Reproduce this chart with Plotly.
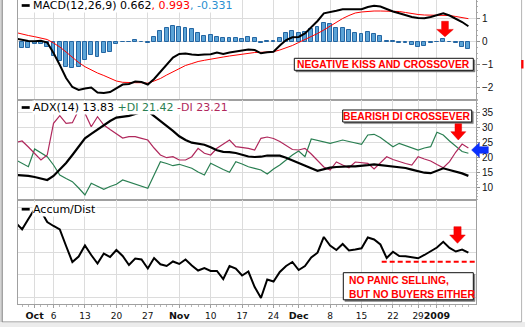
import plotly.graph_objects as go
import pandas as pd

# ---------------- data ----------------
holidays = ["2008-11-27", "2008-12-25", "2009-01-01"]
dates = [d for d in pd.bdate_range("2008-09-26", "2009-01-09")
         if d.strftime("%Y-%m-%d") not in holidays]

day_tick_dates = ["2008-10-06", "2008-10-13", "2008-10-20", "2008-10-27",
                  "2008-11-10", "2008-11-17", "2008-11-24",
                  "2008-12-08", "2008-12-15", "2008-12-22", "2008-12-29"]
day_tick_labels = ["6", "13", "20", "27", "10", "17", "24", "8", "15", "22", "29"]
month_tick_dates = ["2008-10-01", "2008-11-03", "2008-12-01", "2009-01-02"]
month_tick_labels = ["Oct", "Nov", "Dec", "2009"]

macd = [0.130, 0.065, 0.022, 0.009, 0.030, -0.043, -0.500, -1.022, -1.587, -1.978,
        -2.109, -2.043, -2.000, -2.217, -2.239, -2.196, -2.022, -1.870, -1.848, -1.739,
        -1.761, -1.870, -1.630, -1.326, -0.978, -0.696, -0.543, -0.522, -0.565, -0.587,
        -0.565, -0.557, -0.478, -0.543, -0.478, -0.435, -0.404, -0.348, -0.370, -0.513,
        -0.470, -0.443, -0.174, 0.065, 0.183, 0.196, 0.348, 0.630, 0.891, 1.226,
        1.270, 1.335, 1.400, 1.400, 1.400, 1.400, 1.500, 1.552, 1.522, 1.400,
        1.304, 1.226, 1.130, 1.065, 1.022, 1.009, 1.065, 1.152, 1.226, 1.130,
        1.000, 0.848, 0.662]
signal = [0.391, 0.313, 0.261, 0.209, 0.152, 0.087, -0.065, -0.239, -0.457, -0.696,
          -0.913, -1.096, -1.239, -1.370, -1.478, -1.609, -1.717, -1.774, -1.791, -1.791,
          -1.791, -1.813, -1.717, -1.609, -1.457, -1.313, -1.152, -1.043, -0.957, -0.870,
          -0.817, -0.761, -0.730, -0.674, -0.630, -0.587, -0.543, -0.500, -0.478, -0.470,
          -0.457, -0.443, -0.370, -0.283, -0.174, -0.043, 0.087, 0.196, 0.348, 0.500,
          0.674, 0.848, 1.000, 1.130, 1.239, 1.283, 1.313, 1.326, 1.326, 1.326,
          1.326, 1.304, 1.261, 1.204, 1.174, 1.152, 1.152, 1.152, 1.152, 1.130,
          1.087, 1.035, 0.993]
hist = [-0.32, -0.30, -0.28, -0.11, -0.10, -0.22, -0.65, -0.85, -1.09, -1.14,
        -1.09, -0.80, -0.59, -0.66, -0.51, -0.44, -0.12, -0.04, -0.04, 0.07,
        -0.03, -0.08, 0.21, 0.44, 0.60, 0.67, 0.64, 0.57, 0.53, 0.36,
        0.24, 0.28, 0.21, 0.14, 0.17, 0.17, 0.10, 0.18, 0.17, -0.05,
        0.01, 0.02, 0.14, 0.36, 0.46, 0.36, 0.40, 0.53, 0.64, 0.79,
        0.76, 0.57, 0.57, 0.50, 0.36, 0.33, 0.40, 0.33, 0.24, 0.04,
        0.01, -0.08, -0.08, -0.15, -0.23, -0.20, -0.08, -0.03, 0.10, -0.01,
        -0.08, -0.23, -0.331]

adx = [14.12, 14.05, 13.85, 13.45, 12.95, 12.45, 13.79, 15.80, 18.14, 20.82,
       23.60, 26.42, 27.89, 29.37, 30.81, 32.22, 33.36, 33.56, 33.93, 34.60,
       35.23, 35.50, 33.89, 32.22, 30.71, 28.90, 27.09, 25.85, 24.95, 24.58,
       24.28, 23.40, 22.40, 21.86, 21.80, 21.49, 20.86, 20.32, 20.15, 20.25,
       20.66, 20.76, 20.62, 19.89, 18.95, 18.18, 17.24, 16.40, 15.53, 16.03,
       16.57, 16.80, 17.00, 17.04, 17.04, 17.14, 17.41, 17.67, 17.41, 17.04,
       16.80, 16.60, 16.47, 15.93, 15.36, 14.89, 14.72, 15.50, 16.37, 15.80,
       15.29, 14.66, 13.83]
plus_di = [19.15, 17.98, 16.90, 22.83, 21.39, 20.25, 17.47, 14.12, 12.95, 11.88,
           9.77, 7.42, 11.34, 10.27, 9.33, 10.27, 11.01, 12.45, 11.78, 10.94,
           10.27, 9.66, 14.12, 18.58, 17.98, 17.24, 17.71, 17.04, 16.37, 15.13,
           14.12, 18.04, 16.90, 15.96, 15.03, 18.58, 17.81, 16.90, 16.37, 15.80,
           14.46, 16.13, 17.47, 19.15, 20.82, 22.16, 20.25, 26.19, 25.68, 25.18,
           24.74, 25.28, 25.85, 25.35, 24.85, 24.41, 27.53, 27.76, 26.69, 25.18,
           23.61, 24.74, 24.01, 23.17, 22.50, 23.17, 23.61, 28.43, 27.53, 25.52,
           23.84, 22.00, 21.42]
minus_di = [25.01, 25.52, 23.50, 21.49, 19.15, 20.82, 31.45, 33.99, 31.45, 31.65,
            35.90, 34.80, 30.31, 33.66, 30.88, 29.37, 28.03, 26.52, 26.96, 26.96,
            26.42, 25.85, 23.17, 20.82, 19.92, 20.25, 19.15, 19.15, 20.25, 23.07,
            21.39, 20.82, 23.07, 24.51, 25.85, 23.61, 23.34, 23.07, 22.50, 26.42,
            26.86, 26.35, 25.35, 24.01, 22.67, 22.50, 23.07, 21.16, 18.98, 16.80,
            15.80, 18.48, 17.47, 16.57, 18.48, 18.31, 18.04, 16.13, 18.14, 20.25,
            19.32, 18.58, 17.98, 17.47, 20.25, 19.48, 18.81, 17.64, 16.57, 18.58,
            21.83, 24.51, 23.21]
accum_dist = [3.289, 3.009, 3.467, 3.911, 3.822, 3.333, 3.156, 3.000, 2.267, 1.556,
              1.800, 2.289, 1.867, 1.489, 1.933, 1.778, 2.089, 1.822, 1.422, 1.711,
              1.667, 1.267, 1.733, 1.453, 1.378, 1.578, 1.467, 1.667, 1.400, 1.178,
              1.289, 1.156, 1.156, 0.800, 1.378, 1.267, 0.956, 1.133, 0.444, -0.044,
              0.778, 0.689, 1.111, 1.378, 1.556, 1.200, 1.378, 1.756, 1.969, 2.667,
              2.289, 2.089, 2.356, 2.067, 2.111, 2.164, 2.644, 2.556, 2.333, 1.733,
              2.013, 1.822, 1.809, 1.778, 1.720, 1.867, 2.044, 2.200, 2.453, 2.178,
              2.022, 2.111, 1.969]

# ---------------- geometry ----------------
W, H = 525, 327
ML, MR, MT, MB = 18, 49, 0, 23
PW, PH = W - ML - MR, H - MT - MB


def X(px):
    return (px - ML) / PW


def Y(py):
    return 1 - (py - MT) / PH


idx = list(range(len(dates)))
pos = {d.strftime("%Y-%m-%d"): i for i, d in enumerate(dates)}
day_idx = [pos[d] for d in day_tick_dates]
month_idx = [pos[d] for d in month_tick_dates]
all_idx = sorted(day_idx + month_idx)
xr = [0.35, 73.21]

GRID = "#dcdcdc"
BORDER = "#a0a0a0"

fig = go.Figure()
fig.add_trace(go.Bar(x=idx, y=hist, xaxis="x", yaxis="y", width=0.62,
                     marker=dict(color="#5ba3d6", line=dict(color="#2466a3", width=1))))
fig.add_trace(go.Scatter(x=idx, y=signal, xaxis="x", yaxis="y", mode="lines",
                         line=dict(color="#ff0000", width=1)))
fig.add_trace(go.Scatter(x=idx, y=macd, xaxis="x", yaxis="y", mode="lines",
                         line=dict(color="#000000", width=2)))
fig.add_trace(go.Scatter(x=idx, y=plus_di, xaxis="x2", yaxis="y2", mode="lines",
                         line=dict(color="#2a7f52", width=1.2)))
fig.add_trace(go.Scatter(x=idx, y=minus_di, xaxis="x2", yaxis="y2", mode="lines",
                         line=dict(color="#b0285c", width=1.2)))
fig.add_trace(go.Scatter(x=idx, y=adx, xaxis="x2", yaxis="y2", mode="lines",
                         line=dict(color="#000000", width=2.2)))
fig.add_trace(go.Scatter(x=idx, y=accum_dist, xaxis="x3", yaxis="y3", mode="lines",
                         line=dict(color="#000000", width=2)))
# invisible trace so the month-label axis is drawn
fig.add_trace(go.Scatter(x=[idx[0]], y=[accum_dist[0]], xaxis="x4", yaxis="y3",
                         mode="markers", marker=dict(opacity=0), showlegend=False))

d1 = [Y(100), 1]
d2 = [Y(200), Y(100)]
d3 = [0, Y(200)]

TICKFONT = dict(family="DejaVu Sans", size=9, color="#111")


def xaxis(anchor):
    return dict(range=xr, anchor=anchor, tickmode="array", tickvals=all_idx,
                showgrid=True, gridcolor=GRID, gridwidth=1, showline=True,
                linecolor=BORDER, linewidth=1, mirror=True, zeroline=False,
                fixedrange=True, showticklabels=False, ticks="")


x3 = xaxis("y3")
x3.update(tickvals=day_idx, ticktext=day_tick_labels, showticklabels=True,
          ticks="outside", ticklen=3, tickcolor=BORDER, tickfont=TICKFONT,
          minor=dict(tickvals=idx, ticks="outside", ticklen=2, tickcolor="#b8b8b8"))
x4 = dict(range=xr, anchor="y3", overlaying="x3", side="bottom", tickmode="array",
          tickvals=month_idx, ticktext=month_tick_labels, showgrid=True,
          gridcolor=GRID, showline=False, zeroline=False, fixedrange=True,
          ticks="outside", ticklen=3, tickcolor=BORDER,
          tickfont=dict(family="DejaVu Sans", size=9.5, color="#111", weight="bold"))


def yaxis(anchor, dom, rng, vals, labels, minor_dt):
    ax = dict(domain=dom, anchor=anchor, side="right", range=rng, tickmode="array",
              tickvals=vals, showgrid=True, gridcolor=GRID, gridwidth=1,
              showline=True, linecolor=BORDER, linewidth=1, mirror=True,
              zeroline=False, fixedrange=True)
    if labels:
        ax.update(ticks="outside", ticklen=3, tickcolor="#909090",
                  tickfont=dict(family="Liberation Sans", size=10, color="#111"),
                  minor=dict(dtick=minor_dt, ticks="outside", ticklen=1, tickcolor="#b0b0b0"))
    else:
        ax.update(showticklabels=False, ticks="")
    return ax


fig.update_layout(
    width=W, height=H, autosize=False,
    margin=dict(l=ML, r=MR, t=MT, b=MB, pad=0),
    paper_bgcolor="white", plot_bgcolor="white",
    showlegend=False, hovermode=False, bargap=0,
    xaxis=xaxis("y"),
    xaxis2=xaxis("y2"),
    xaxis3=x3,
    xaxis4=x4,
    yaxis=yaxis("x", d1, [-2.543, 1.804], [-2, -1, 0, 1], True, 0.25),
    yaxis2=yaxis("x2", d2, [5.744, 39.26], [10, 15, 20, 25, 30, 35], True, 1),
    yaxis3=yaxis("x3", d3, [-0.311, 4.311], [0, 1, 2, 3, 4], False, 1),
)

shapes = []
annos = []


def path(pts, close=True):
    s = "M " + " L ".join(f"{X(a):.5f},{Y(b):.5f}" for a, b in pts)
    return s + (" Z" if close else "")


def box(x0, y0, x1, y1):
    return path([(x0, y0), (x1, y0), (x1, y1), (x0, y1)])


# legends
LEG_FONT = dict(family="DejaVu Sans", size=11, color="#000")
for ly, txt in [
    (5.5, "MACD(12,26,9) 0.662<span style='color:#ff0000'>, 0.993</span>"
          "<span style='color:#2b8fd0'>, -0.331</span>"),
    (107.5, "ADX(14) 13.83 <span style='color:#2a7f52'>+DI 21.42</span> "
            "<span style='color:#b0285c'>-DI 23.21</span>"),
    (209.2, "Accum/Dist"),
]:
    annos.append(dict(x=X(32), y=Y(ly), xref="paper", yref="paper", xanchor="left",
                      yanchor="middle", text=txt, showarrow=False, font=LEG_FONT,
                      bgcolor="white", borderpad=0))
    shapes.append(dict(type="line", xref="paper", yref="paper", x0=X(21.7), x1=X(29.7),
                       y0=Y(ly), y1=Y(ly), line=dict(color="black", width=2.7)))

# comment boxes (shadow + white box)
BOX_FONT = dict(family="Liberation Sans", size=10.3, color="#ff0000", weight="bold")
for (x0, y0, x1, y1) in [(294.3, 58.3, 473.3, 70.3), (342.7, 110.0, 471.7, 122.0),
                         (343.3, 272.7, 473.3, 299.8)]:
    shapes.append(dict(type="path", xref="paper", yref="paper",
                       path=box(x0 + 1.6, y0 + 1.6, x1 + 1.6, y1 + 1.6),
                       fillcolor="#7a7a7a", line=dict(color="#7a7a7a", width=0.5)))
    shapes.append(dict(type="path", xref="paper", yref="paper",
                       path=box(x0, y0, x1, y1),
                       fillcolor="white", line=dict(color="#111111", width=1)))
annos.append(dict(x=X(383.8), y=Y(64.4), xref="paper", yref="paper", xanchor="center",
                  yanchor="middle", showarrow=False, font=BOX_FONT,
                  text="NEGATIVE KISS AND CROSSOVER"))
annos.append(dict(x=X(407.2), y=Y(116.1), xref="paper", yref="paper", xanchor="center",
                  yanchor="middle", showarrow=False, font=BOX_FONT,
                  text="BEARISH DI CROSSEVER"))
annos.append(dict(x=X(346.5), y=Y(280.8), xref="paper", yref="paper", xanchor="left",
                  yanchor="middle", showarrow=False, font=BOX_FONT,
                  text="NO PANIC SELLING,"))
annos.append(dict(x=X(346.5), y=Y(294.2), xref="paper", yref="paper", xanchor="left",
                  yanchor="middle", showarrow=False, font=BOX_FONT,
                  text="BUT NO BUYERS EITHER"))


def down_arrow(cx, y0, yh, yt, sw, hw):
    return path([(cx - sw, y0), (cx + sw, y0), (cx + sw, yh), (cx + hw, yh), (cx, yt),
                 (cx - hw, yh), (cx - sw, yh)])


for a in [(445.0, 21.3, 29.4, 36.8, 3.4, 8.3), (458.3, 123.8, 131.7, 140.0, 3.3, 7.5),
          (457.5, 226.7, 235.0, 243.3, 3.6, 7.8)]:
    shapes.append(dict(type="path", xref="paper", yref="paper", path=down_arrow(*a),
                       fillcolor="#ff0000", line=dict(color="#e00000", width=0.5)))

# blue arrow pointing left at the DI crossing level
shapes.append(dict(type="path", xref="paper", yref="paper",
                   path=path([(471.6, 150.0), (479.3, 142.7), (479.3, 146.7), (488.3, 146.7),
                              (488.3, 153.3), (479.3, 153.3), (479.3, 157.3)]),
                   fillcolor="#0a30ff", line=dict(color="#0020e0", width=0.5)))

# dashed support line on A/D
shapes.append(dict(type="line", xref="paper", yref="paper", x0=X(381.7), x1=X(476.8),
                   y0=Y(261.7), y1=Y(261.7),
                   line=dict(color="#ff0000", width=2, dash="5px,3px")))

# outer frame of the chart image
shapes.append(dict(type="path", xref="paper", yref="paper", path=box(0, 322, 525, 327.5),
                   fillcolor="#ececec", line=dict(width=0)))
shapes.append(dict(type="line", xref="paper", yref="paper", x0=X(2), x1=X(521.5),
                   y0=Y(321.8), y1=Y(321.8), line=dict(color="#a8a8a8", width=1)))
shapes.append(dict(type="path", xref="paper", yref="paper", path=box(0, 0, 1.6, 322),
                   fillcolor="#d4d4d4", line=dict(width=0)))
shapes.append(dict(type="line", xref="paper", yref="paper", x0=X(2.2), x1=X(2.2),
                   y0=Y(0), y1=Y(322), line=dict(color="#8c8c8c", width=1.2)))
shapes.append(dict(type="line", xref="paper", yref="paper", x0=X(521.6), x1=X(521.6),
                   y0=Y(0), y1=Y(322), line=dict(color="#b4b4b4", width=1)))
shapes.append(dict(type="path", xref="paper", yref="paper", path=box(521.2, 60, 523.5, 68.5),
                   fillcolor="#ff0000", line=dict(width=0)))

fig.update_layout(shapes=shapes, annotations=annos)
fig.write_html("out.html")
